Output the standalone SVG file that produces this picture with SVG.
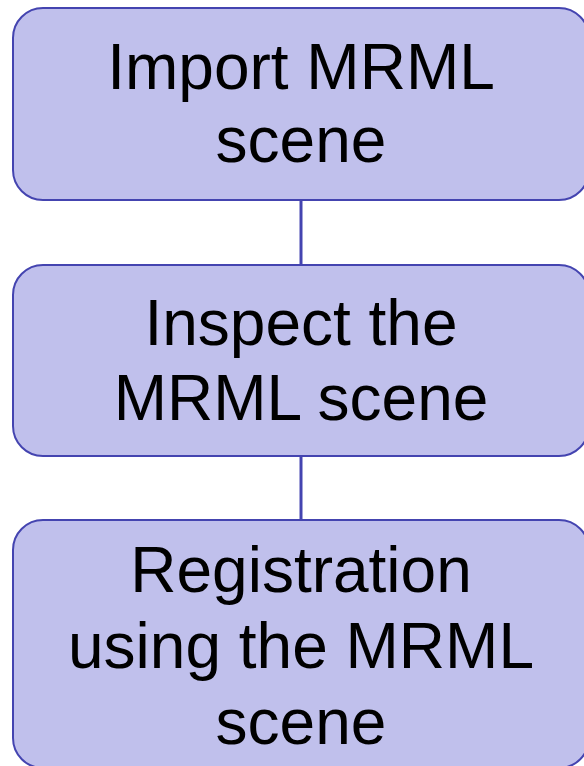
<svg xmlns="http://www.w3.org/2000/svg" width="584" height="766" viewBox="0 0 584 766">
<style>
.box{fill:#c0c0ec;stroke:#4444b0;stroke-width:2}
.lbl{font-family:"Liberation Sans",Arial,sans-serif;font-size:64px;fill:#000;text-anchor:middle}
.conn{stroke:#4444b0;stroke-width:3;fill:none}
</style>
<rect width="584" height="766" fill="#ffffff"/>
<g id="connectors">
<line class="conn" x1="301" y1="200" x2="301" y2="265"/>
<line class="conn" x1="301" y1="456" x2="301" y2="520"/>
</g>
<g id="node1">
<rect class="box" x="13" y="8" width="576" height="192" rx="30" ry="30"/>
<text class="lbl" x="301" y="89">Import MRML</text>
<text class="lbl" x="301" y="162">scene</text>
</g>
<g id="node2">
<rect class="box" x="13" y="265" width="576" height="191" rx="30" ry="30"/>
<text class="lbl" x="301" y="345">Inspect the</text>
<text class="lbl" x="301" y="420">MRML scene</text>
</g>
<g id="node3">
<rect class="box" x="13" y="520" width="576" height="248" rx="30" ry="30"/>
<text class="lbl" x="301" y="592">Registration</text>
<text class="lbl" x="301" y="668">using the MRML</text>
<text class="lbl" x="301" y="744">scene</text>
</g>
</svg>
